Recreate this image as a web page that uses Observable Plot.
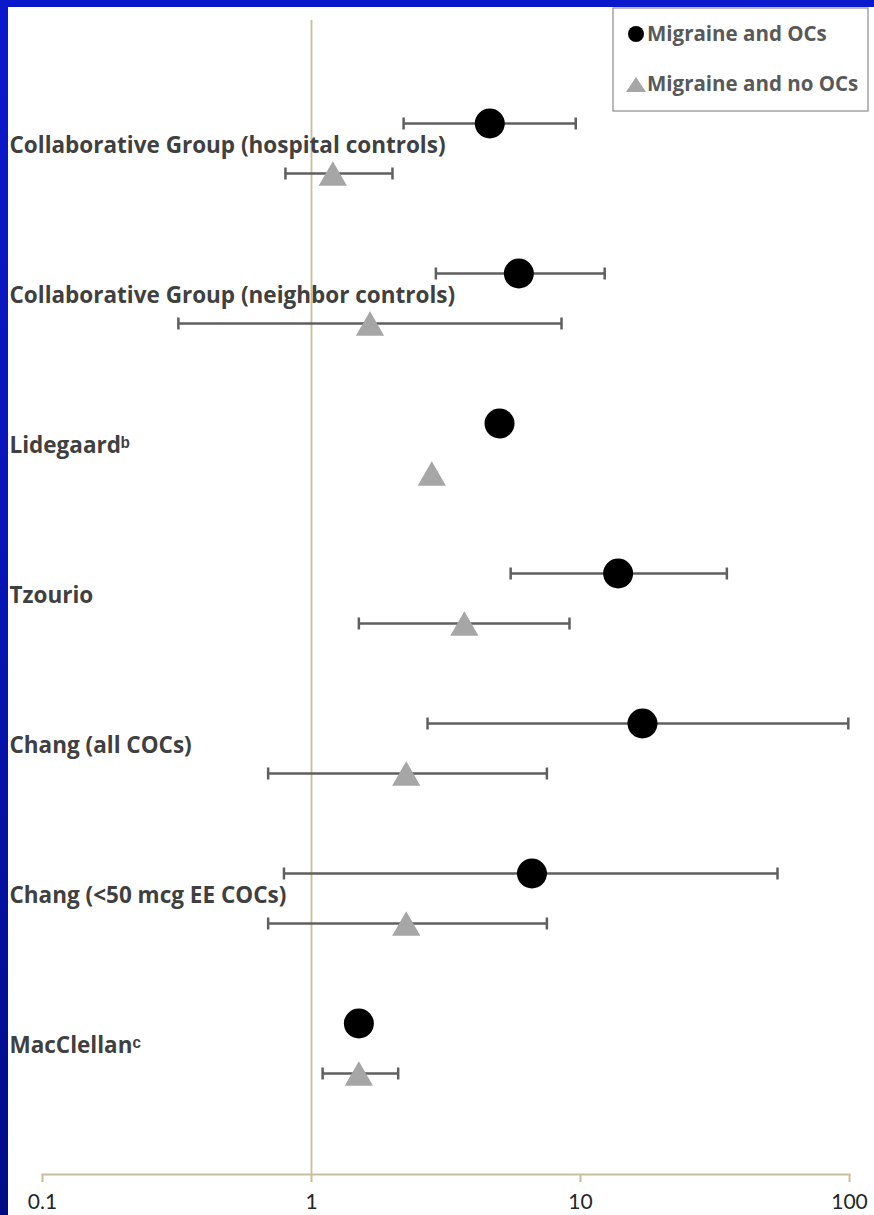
<!DOCTYPE html>
<html><head><meta charset="utf-8">
<script src="https://cdn.jsdelivr.net/npm/d3@7"></script>
<script src="https://cdn.jsdelivr.net/npm/@observablehq/plot@0.6"></script>
<style>
html,body{margin:0;padding:0;background:#000c86;}
#wrap{position:relative;width:874px;height:1215px;background:linear-gradient(to bottom,#0b19cc 0%,#0714b4 50%,#000c86 100%);overflow:hidden;}
#chart{position:absolute;left:8px;top:7px;width:866px;height:1208px;background:#fff;}
#legend{position:absolute;left:612px;top:7px;}
#legend text{font-family:"Open Sans",sans-serif;font-weight:bold;font-size:20.5px;fill:#595959;}
</style></head><body>
<div id="wrap"><div id="chart"></div>
<svg id="legend" width="257" height="105">
<rect x="1" y="1" width="255" height="103" fill="#fff" stroke="#8c8c8c" stroke-width="1.2"></rect>
<circle cx="24" cy="27" r="8" fill="#000"></circle>
<text x="35" y="34">Migraine and OCs</text>
<path d="M14,85 L24,70 L34,85 Z" fill="#a6a6a6"></path>
<text x="35" y="84">Migraine and no OCs</text>
</svg>
</div>
<script>
const studies = [
  "Collaborative Group (hospital controls)",
  "Collaborative Group (neighbor controls)",
  "Lidegaardᵇ",
  "Tzourio",
  "Chang (all COCs)",
  "Chang (<50 mcg EE COCs)",
  "MacClellanᶜ"
];
const ocOR = [4.6, 5.9, 5.0, 13.8, 17.0, 6.6, 1.5];
const ocLo = [2.2, 2.9, null, 5.5, 2.7, 0.79, null];
const ocHi = [9.6, 12.3, null, 35.0, 99.0, 54.0, null];
const noOR = [1.2, 1.65, 2.8, 3.7, 2.25, 2.25, 1.5];
const noLo = [0.8, 0.32, null, 1.5, 0.69, 0.69, 1.1];
const noHi = [2.0, 8.5, null, 9.1, 7.5, 7.5, 2.1];
const xTicks = [0.1, 1, 10, 100];
const xTickLabels = ["0.1", "1", "10", "100"];

const oc = studies.map((s, i) => ({study: s, or: ocOR[i], lo: ocLo[i], hi: ocHi[i]}));
const no = studies.map((s, i) => ({study: s, or: noOR[i], lo: noLo[i], hi: noHi[i]}));
const ocCI = oc.filter(d => d.lo != null);
const noCI = no.filter(d => d.lo != null);

const tan = "#c6bf9a";
const barColor = "#5f5f5f";
const capSymbol = {draw(context) { context.moveTo(0, -6); context.lineTo(0, 6); }};

function bars(data, dy) {
  return [
    Plot.ruleY(data, {y: "study", x1: "lo", x2: "hi", dy, stroke: barColor, strokeWidth: 2.5}),
    Plot.dot(data, {y: "study", x: "lo", dy, symbol: capSymbol, r: 6, stroke: barColor, strokeWidth: 2.5, fill: "none"}),
    Plot.dot(data, {y: "study", x: "hi", dy, symbol: capSymbol, r: 6, stroke: barColor, strokeWidth: 2.5, fill: "none"})
  ];
}

const plot = Plot.plot({
  width: 866, height: 1208,
  marginLeft: 34, marginRight: 25, marginTop: 13, marginBottom: 41,
  x: {type: "log", domain: [0.1, 100], axis: null},
  y: {type: "point", domain: studies, padding: 0, insetTop: 128, insetBottom: 126, axis: null},
  style: {background: "white", fontFamily: "'Open Sans', sans-serif", overflow: "visible"},
  marks: [
    Plot.ruleX([1], {stroke: tan, strokeWidth: 1.8}),
    Plot.frame({anchor: "bottom", stroke: tan, strokeWidth: 2}),
    Plot.axisX({ticks: xTicks, tickFormat: d => xTickLabels[xTicks.indexOf(d)], tickSize: 8, tickPadding: 12,
      fontSize: 21, fontFamily: "Lato, sans-serif", stroke: tan, strokeWidth: 2, fill: "#262626", label: null}),
    ...bars(ocCI, -25),
    ...bars(noCI, 25),
    Plot.dot(oc, {y: "study", x: "or", dy: -25, r: 15, fill: "#000", stroke: "none"}),
    Plot.dot(no, {y: "study", x: "or", dy: 29, r: 10.5, symbol: "triangle", fill: "#a6a6a6", stroke: "none"}),
    Plot.text(studies, {y: d => d, frameAnchor: "left", dx: -33, dy: -3, text: d => d, textAnchor: "start",
      fontSize: 22.5, fontWeight: "bold", fill: "#404040"})
  ]
});
document.getElementById("chart").appendChild(plot);
</script>
</body></html>
